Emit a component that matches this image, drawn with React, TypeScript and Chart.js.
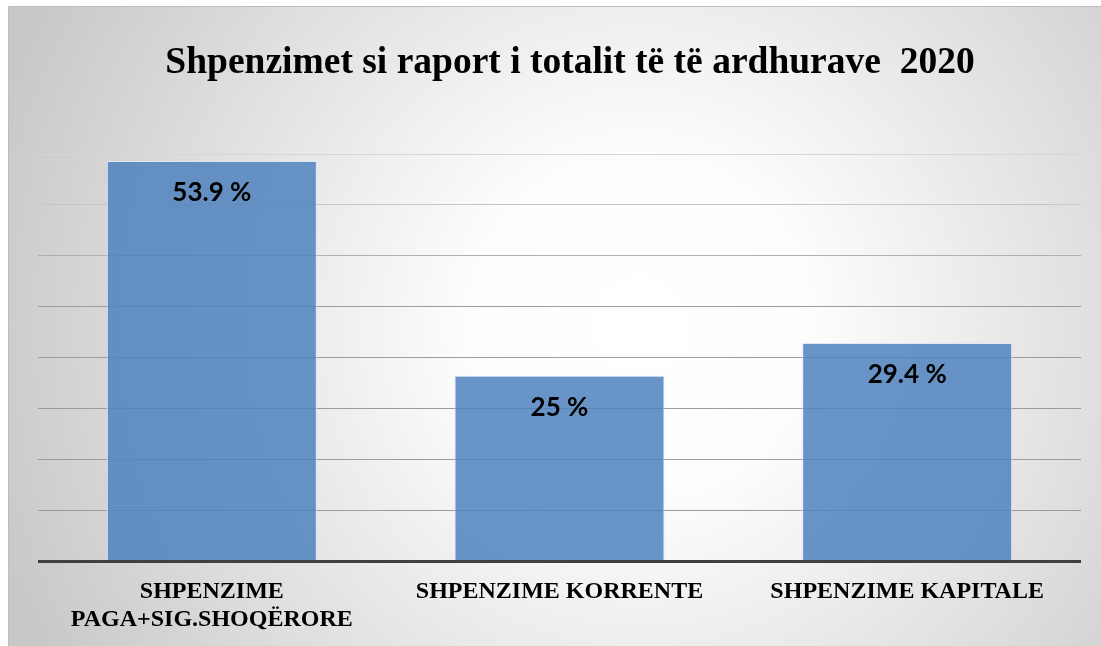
import React, { useEffect, useRef } from "react";
import { Chart, registerables } from "chart.js";

Chart.register(...registerables);

const titleText = "Shpenzimet si raport i totalit të të ardhurave  2020";
const categories: (string | string[])[] = [
  ["SHPENZIME", "PAGA+SIG.SHOQËRORE"],
  "SHPENZIME KORRENTE",
  "SHPENZIME KAPITALE",
];
const values = [53.9, 25, 29.4];
const valueLabels = ["53.9 %", "25 %", "29.4 %"];
const yMax = 54.84;
const gridCount = 8;

const bgPlugin = {
  id: "bgPlugin",
  beforeDraw(chart: any) {
    const { ctx, width, height } = chart;
    ctx.save();
    const g = ctx.createRadialGradient(632, 320, 0, 632, 320, 680);
    g.addColorStop(0, "#ffffff");
    g.addColorStop(0.25, "#fdfdfd");
    g.addColorStop(1, "#c8c8c8");
    ctx.fillStyle = g;
    ctx.fillRect(0, 0, width, height);
    ctx.strokeStyle = "#bdbdbd";
    ctx.lineWidth = 1;
    ctx.beginPath();
    ctx.moveTo(0.5, height);
    ctx.lineTo(0.5, 0.5);
    ctx.lineTo(width, 0.5);
    ctx.stroke();
    ctx.fillStyle = "#000";
    ctx.font = "bold 37.5px 'Liberation Serif', 'Times New Roman', serif";
    ctx.textAlign = "center";
    ctx.textBaseline = "alphabetic";
    ctx.fillText(titleText, 562, 66.5);
    ctx.restore();
  },
};

const labelPlugin = {
  id: "labelPlugin",
  afterDatasetsDraw(chart: any) {
    const { ctx } = chart;
    const meta = chart.getDatasetMeta(0);
    ctx.save();
    ctx.fillStyle = "#000";
    ctx.font = "bold 26px Lato, 'Noto Sans', sans-serif";
    ctx.textAlign = "center";
    ctx.textBaseline = "alphabetic";
    meta.data.forEach((bar: any, i: number) => {
      ctx.fillText(valueLabels[i], bar.x, bar.y + 40);
    });
    ctx.restore();
  },
};

function gridColor(index: number): string {
  if (index === 0) return "#404040";
  if (index >= 8) return "#d6d6d6";
  if (index === 7) return "#c6c6c6";
  if (index === 6) return "#b0b0b0";
  return "#9c9c9c";
}

export default function App() {
  const ref = useRef<HTMLCanvasElement>(null);
  useEffect(() => {
    if (!ref.current) return;
    const chart = new Chart(ref.current, {
      type: "bar",
      data: {
        labels: categories,
        datasets: [
          {
            data: values,
            backgroundColor: "rgba(79,129,189,0.85)",
            borderColor: "rgba(220,232,245,0.9)",
            borderWidth: 1,
            borderSkipped: "bottom",
            barPercentage: 0.604,
            categoryPercentage: 1,
          },
        ],
      },
      options: {
        animation: false,
        responsive: true,
        maintainAspectRatio: false,
        layout: { padding: { left: 30, right: 20, top: 148, bottom: 0 } },
        plugins: {
          legend: { display: false },
          title: { display: false },
          tooltip: { enabled: false },
        },
        scales: {
          x: {
            grid: { display: false },
            border: { display: false },
            ticks: {
              color: "#000",
              padding: 8,
              maxRotation: 0,
              autoSkip: false,
              font: {
                family: "'Liberation Serif', 'Times New Roman', serif",
                weight: "bold",
                size: 24,
                lineHeight: 1.18,
              },
            },
            afterFit(scale: any) {
              scale.height = 84.5;
            },
          },
          y: {
            min: 0,
            max: yMax,
            border: { display: false },
            ticks: { display: false },
            afterBuildTicks(scale: any) {
              const t = [];
              for (let i = 0; i <= gridCount; i++) t.push({ value: (yMax * i) / gridCount });
              scale.ticks = t;
            },
            afterFit(scale: any) {
              scale.width = 0;
            },
            grid: {
              drawTicks: false,
              color: (c: any) => gridColor(c.index),
              lineWidth: (c: any) => (c.index === 0 ? 3 : 1),
            },
          },
        },
      },
      plugins: [bgPlugin, labelPlugin],
    });
    return () => chart.destroy();
  }, []);
  return (
    <div style={{ position: "fixed", left: 8, top: 6, width: 1093, height: 640 }}>
      <canvas ref={ref} />
    </div>
  );
}
